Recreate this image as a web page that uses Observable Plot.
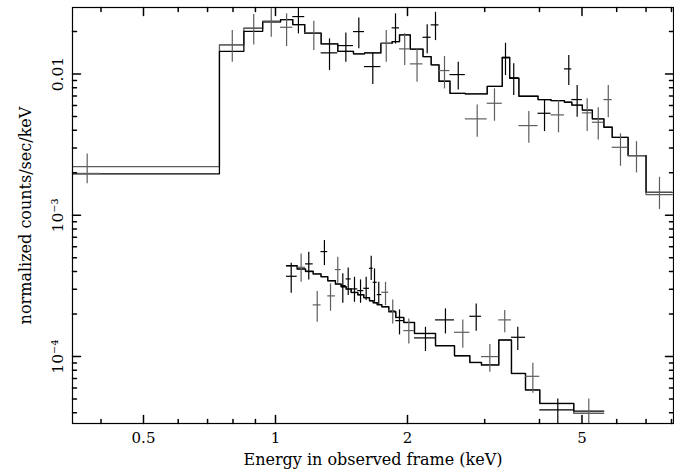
<!DOCTYPE html>
<html><head><meta charset="utf-8">
<script src="https://cdn.jsdelivr.net/npm/d3@7"></script>
<script src="https://cdn.jsdelivr.net/npm/@observablehq/plot@0.6"></script>
<style>
html,body{margin:0;padding:0;background:#fff;}
#chart{width:674px;height:470px;}
g[aria-label="x-title"] text{letter-spacing:1px;}
g[aria-label="y-title"] text{letter-spacing:1.3px;}
</style>
</head><body><div id="chart"></div>
<script>
// ---------- upper spectrum (model steps) ----------
const upperEdges = [0.3444, 0.745, 0.847, 0.935, 1.027, 1.095, 1.166, 1.271, 1.387, 1.506, 1.596, 1.739, 1.845, 1.918, 2.03, 2.17, 2.265, 2.36, 2.50, 2.71, 3.04, 3.29, 3.42, 3.59, 3.97, 4.25, 4.56, 4.74, 5.01, 5.28, 5.61, 5.86, 6.37, 7.00, 8.03];
const upperModelA = [1.965e-3, 0.01450, 0.02009, 0.02364, 0.02431, 0.02241, 0.01945, 0.01636, 0.01450, 0.01392, 0.01411, 0.01652, 0.01698, 0.01895, 0.01503, 0.01330, 0.01162, 0.008893, 0.007312, 0.007241, 0.008195, 0.01315, 0.009339, 0.006965, 0.006600, 0.006493, 0.006316, 0.006034, 0.005559, 0.004818, 0.004202, 0.003569, 0.002649, 0.001456];
const upperModelB = [2.214e-3, 0.01609, 0.02110, 0.02326, 0.02431, 0.02241, 0.01945, 0.01636, 0.01450, 0.01392, 0.01411, 0.01652, 0.01698, 0.01895, 0.01503, 0.01330, 0.01162, 0.008893, 0.007312, 0.007241, 0.008195, 0.01315, 0.009339, 0.006965, 0.006600, 0.006493, 0.006316, 0.006034, 0.005559, 0.004818, 0.004202, 0.003569, 0.002649, 0.001402];

// ---------- upper spectrum (data points) ----------
const upperE    = [0.372, 0.797, 0.892, 0.978, 1.060, 1.128, 1.223, 1.328, 1.447, 1.549, 1.667, 1.789, 1.878, 1.971, 2.103, 2.218, 2.317, 2.429, 2.611, 2.884, 3.158, 3.346, 3.494, 3.782, 4.107, 4.420, 4.665, 4.875, 5.138, 5.446, 5.740, 6.120, 6.657, 7.511];
const upperElo  = [0.345, 0.745, 0.847, 0.935, 1.027, 1.095, 1.166, 1.271, 1.387, 1.506, 1.596, 1.739, 1.845, 1.918, 2.03, 2.17, 2.265, 2.36, 2.50, 2.71, 3.04, 3.29, 3.42, 3.59, 3.97, 4.25, 4.56, 4.74, 5.01, 5.28, 5.61, 5.86, 6.37, 7.00];
const upperEhi  = [0.400, 0.847, 0.935, 1.027, 1.095, 1.166, 1.271, 1.387, 1.506, 1.596, 1.739, 1.845, 1.918, 2.03, 2.17, 2.265, 2.36, 2.50, 2.71, 3.04, 3.29, 3.42, 3.59, 3.97, 4.25, 4.56, 4.74, 5.01, 5.28, 5.61, 5.86, 6.37, 7.00, 8.03];
const upperRate = [1.98e-3, 0.01609, 0.02110, 0.02364, 0.02144, 0.02553, 0.01957, 0.01413, 0.01591, 0.01999, 0.01130, 0.01652, 0.02124, 0.01508, 0.01181, 0.01822, 0.02230, 0.01059, 0.009919, 0.004818, 0.006213, 0.01302, 0.009400, 0.004319, 0.005278, 0.005142, 0.01088, 0.006600, 0.005313, 0.004559, 0.006600, 0.003031, 0.002649, 0.001456];
const upperHi   = [2.723e-3, 0.02032, 0.02638, 0.02895, 0.02668, 0.02991, 0.02364, 0.01775, 0.01957, 0.02499, 0.01404, 0.02032, 0.02668, 0.01926, 0.01515, 0.02230, 0.02738, 0.01330, 0.01212, 0.006052, 0.007855, 0.01652, 0.01181, 0.005426, 0.006600, 0.006493, 0.01352, 0.008290, 0.006676, 0.005764, 0.008290, 0.003773, 0.003327, 0.001860];
const upperLo   = [1.670e-3, 0.01212, 0.01609, 0.01822, 0.01566, 0.01926, 0.01467, 0.01059, 0.01212, 0.01508, 0.008425, 0.01212, 0.01631, 0.01149, 0.008750, 0.01390, 0.01726, 0.007855, 0.007728, 0.003569, 0.004634, 0.009758, 0.007045, 0.003236, 0.003917, 0.003835, 0.008290, 0.004945, 0.003917, 0.003420, 0.004897, 0.002225, 0.001997, 0.001098];
const upperSet  = ["g","g","g","g","g","k","g","k","k","k","k","g","k","g","g","k","k","g","k","g","g","k","k","g","k","g","k","k","g","g","g","g","g","g"];

// ---------- lower spectrum (model steps) ----------
const lowerEdges = [1.0595, 1.1207, 1.1707, 1.2189, 1.2701, 1.3158, 1.3701, 1.4118, 1.4494, 1.4880, 1.5405, 1.5899, 1.6383, 1.6704, 1.7059, 1.7476, 1.8130, 1.8808, 1.9615, 2.0750, 2.3171, 2.5600, 2.7742, 2.9496, 3.2300, 3.4527, 3.7168, 4.0063, 4.7887, 5.6084];
const lowerModelA = [4.410e-4, 4.178e-4, 4.018e-4, 3.851e-4, 3.685e-4, 3.451e-4, 3.270e-4, 3.130e-4, 3.015e-4, 2.852e-4, 2.748e-4, 2.617e-4, 2.492e-4, 2.412e-4, 2.335e-4, 2.260e-4, 2.083e-4, 1.898e-4, 1.749e-4, 1.462e-4, 1.197e-4, 1.016e-4, 9.113e-5, 8.734e-5, 1.313e-4, 7.615e-5, 5.811e-5, 4.670e-5, 4.113e-5];
const lowerModelB = [4.380e-4, 4.150e-4, 4.000e-4, 3.830e-4, 3.670e-4, 3.430e-4, 3.250e-4, 3.110e-4, 2.995e-4, 2.835e-4, 2.730e-4, 2.600e-4, 2.475e-4, 2.395e-4, 2.320e-4, 2.245e-4, 2.070e-4, 1.885e-4, 1.738e-4, 1.452e-4, 1.190e-4, 1.010e-4, 9.060e-5, 8.690e-5, 1.305e-4, 7.570e-5, 5.780e-5, 4.640e-5, 3.968e-5];

// ---------- lower spectrum (data points) ----------
const lowerE    = [1.086, 1.144, 1.191, 1.245, 1.293, 1.335, 1.387, 1.424, 1.465, 1.514, 1.563, 1.610, 1.653, 1.682, 1.720, 1.782, 1.851, 1.918, 2.014, 2.198, 2.441, 2.674, 2.869, 3.082, 3.333, 3.569, 3.863, 4.404, 5.182];
const lowerRate = [3.703e-4, 4.287e-4, 4.532e-4, 2.323e-4, 5.538e-4, 2.690e-4, 4.130e-4, 3.181e-4, 3.548e-4, 3.015e-4, 2.932e-4, 3.044e-4, 4.218e-4, 3.357e-4, 2.748e-4, 2.852e-4, 2.117e-4, 1.798e-4, 1.528e-4, 1.356e-4, 1.819e-4, 1.486e-4, 1.929e-4, 1.000e-4, 1.819e-4, 1.370e-4, 7.251e-5, 4.194e-5, 3.968e-5];
const lowerHi   = [4.577e-4, 5.334e-4, 5.475e-4, 2.885e-4, 6.628e-4, 3.270e-4, 5.044e-4, 3.851e-4, 4.246e-4, 3.643e-4, 3.491e-4, 3.643e-4, 5.129e-4, 4.178e-4, 3.357e-4, 3.357e-4, 2.520e-4, 2.141e-4, 1.849e-4, 1.612e-4, 2.176e-4, 1.819e-4, 2.361e-4, 1.216e-4, 2.117e-4, 1.612e-4, 8.966e-5, 5.019e-5, 5.019e-5];
const lowerLo   = [2.806e-4, 3.357e-4, 3.491e-4, 1.749e-4, 4.410e-4, 2.093e-4, 3.303e-4, 2.384e-4, 2.703e-4, 2.423e-4, 2.384e-4, 2.492e-4, 3.451e-4, 2.423e-4, 2.297e-4, 2.297e-4, 1.704e-4, 1.424e-4, 1.230e-4, 1.085e-4, 1.448e-4, 1.145e-4, 1.510e-4, 7.740e-5, 1.472e-4, 1.103e-4, 5.496e-5, 3.2e-5, 3.2e-5];
const lowerSet  = ["k","g","k","g","k","g","g","k","k","k","k","k","k","k","k","g","g","k","g","k","k","g","k","g","g","k","g","k","g"];

// ---------- axes ----------
const xTicksMajor = [0.5, 1, 2, 5];
const xTickLabels = ["0.5", "1", "2", "5"];
const xTicksMinor = [0.4, 0.6, 0.7, 0.8, 0.9, 3, 4, 6, 7, 8];
const yTicksMajor = [1e-4, 1e-3, 1e-2];
const yTickLabels = ["10\u207B\u2074", "10\u207B\u00B3", "0.01"];
const yTicksMinor = [4e-5, 5e-5, 6e-5, 7e-5, 8e-5, 9e-5, 2e-4, 3e-4, 4e-4, 5e-4, 6e-4, 7e-4, 8e-4, 9e-4, 2e-3, 3e-3, 4e-3, 5e-3, 6e-3, 7e-3, 8e-3, 9e-3, 2e-2];
const xTitle = "Energy in observed frame (keV)";
const yTitle = "normalized counts/sec/keV";

// ---------- build tables ----------
function steps(edges, values) {
  return edges.map((e, i) => ({x: e, y: values[Math.min(i, values.length - 1)]}));
}
function binsFromEdges(edges) {
  return {lo: edges.slice(0, -1), hi: edges.slice(1)};
}
const lowerBins = binsFromEdges(lowerEdges);
function crossTable(E, lo, hi, rate, rlo, rhi, set) {
  return E.map((e, i) => ({e, lo: lo[i], hi: hi[i], r: rate[i], rlo: rlo[i], rhi: rhi[i], set: set[i]}));
}
const crossesAll = [
  ...crossTable(upperE, upperElo, upperEhi, upperRate, upperLo, upperHi, upperSet),
  ...crossTable(lowerE, lowerBins.lo, lowerBins.hi, lowerRate, lowerLo, lowerHi, lowerSet)
];
const BLACK = "#000000", GREY = "#5e5e5e";
const tickShape = {draw(ctx, l) { ctx.moveTo(0, 0); ctx.lineTo(0, -l); }};
const font = "'DejaVu Serif', serif";

function crossMarks(set, color) {
  const d = crossesAll.filter(c => c.set === set);
  return [
    Plot.ruleY(d, {y: "r", x1: "lo", x2: "hi", stroke: color, strokeWidth: 1.2, clip: true}),
    Plot.ruleX(d, {x: "e", y1: "rlo", y2: "rhi", stroke: color, strokeWidth: 1.2, clip: true})
  ];
}

const chart = Plot.plot({
  width: 674, height: 470,
  marginLeft: 72, marginRight: 1, marginTop: 7, marginBottom: 47,
  style: {fontFamily: font, fontSize: "15px", background: "white", color: "black"},
  x: {type: "log", domain: [0.3444, 8.085], axis: null},
  y: {type: "log", domain: [3.36e-5, 0.0296], axis: null},
  marks: [
    Plot.line(steps(upperEdges, upperModelB), {x: "x", y: "y", curve: "step-after", stroke: GREY, strokeWidth: 1.3, clip: true}),
    Plot.line(steps(upperEdges, upperModelA), {x: "x", y: "y", curve: "step-after", stroke: BLACK, strokeWidth: 1.3, clip: true}),
    Plot.line(steps(lowerEdges, lowerModelB), {x: "x", y: "y", curve: "step-after", stroke: GREY, strokeWidth: 1.3, clip: true}),
    Plot.line(steps(lowerEdges, lowerModelA), {x: "x", y: "y", curve: "step-after", stroke: BLACK, strokeWidth: 1.3, clip: true}),
    ...crossMarks("g", GREY),
    ...crossMarks("k", BLACK),
    // ticks, pointing inward on all four sides
    Plot.vector(xTicksMajor, {x: d => d, frameAnchor: "bottom", length: 8, rotate: 0, anchor: "start", shape: tickShape, stroke: BLACK}),
    Plot.vector(xTicksMinor, {x: d => d, frameAnchor: "bottom", length: 4, rotate: 0, anchor: "start", shape: tickShape, stroke: BLACK}),
    Plot.vector(xTicksMajor, {x: d => d, frameAnchor: "top", length: 8, rotate: 180, anchor: "start", shape: tickShape, stroke: BLACK}),
    Plot.vector(xTicksMinor, {x: d => d, frameAnchor: "top", length: 4, rotate: 180, anchor: "start", shape: tickShape, stroke: BLACK}),
    Plot.vector(yTicksMajor, {y: d => d, frameAnchor: "left", length: 8, rotate: 90, anchor: "start", shape: tickShape, stroke: BLACK}),
    Plot.vector(yTicksMinor, {y: d => d, frameAnchor: "left", length: 4, rotate: 90, anchor: "start", shape: tickShape, stroke: BLACK}),
    Plot.vector(yTicksMajor, {y: d => d, frameAnchor: "right", length: 8, rotate: -90, anchor: "start", shape: tickShape, stroke: BLACK}),
    Plot.vector(yTicksMinor, {y: d => d, frameAnchor: "right", length: 4, rotate: -90, anchor: "start", shape: tickShape, stroke: BLACK}),
    Plot.frame({stroke: BLACK, strokeWidth: 1.2}),
    // tick labels
    Plot.text(xTicksMajor, {x: d => d, frameAnchor: "bottom", text: (d, i) => xTickLabels[i], lineAnchor: "top", dy: 9, fontSize: 15, fill: BLACK}),
    Plot.text(yTicksMajor, {y: d => d, frameAnchor: "left", text: (d, i) => yTickLabels[i], rotate: -90, textAnchor: "middle", lineAnchor: "bottom", dx: -10, fontSize: 15.5, fill: BLACK}),
    // axis titles
    Plot.text([xTitle], {frameAnchor: "bottom", text: d => d, lineAnchor: "bottom", dy: 41, fontSize: 16, fill: BLACK, ariaLabel: "x-title"}),
    Plot.text([yTitle], {frameAnchor: "left", text: d => d, rotate: -90, textAnchor: "middle", lineAnchor: "bottom", dx: -42, fontSize: 16, fill: BLACK, ariaLabel: "y-title"})
  ]
});
document.getElementById("chart").appendChild(chart);
</script>
</body></html>
